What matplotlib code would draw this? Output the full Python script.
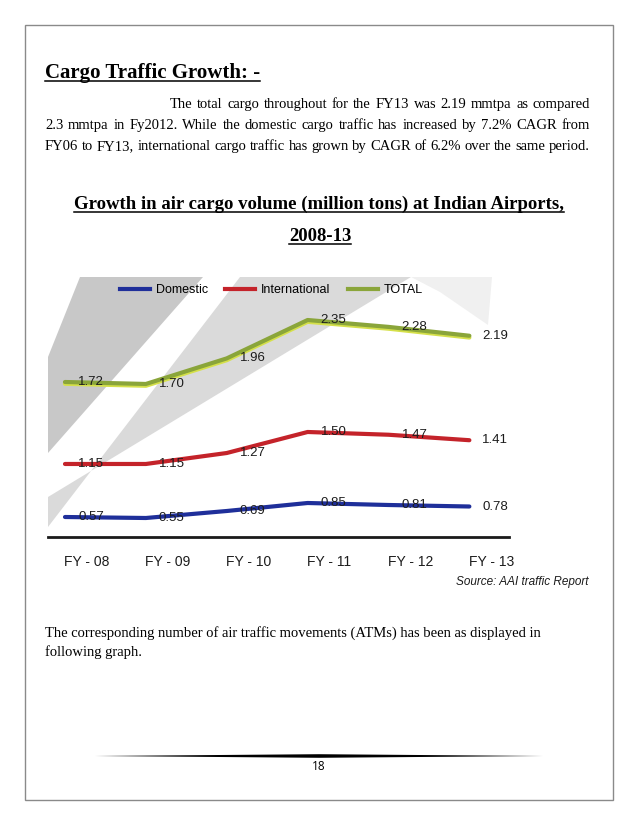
import matplotlib.pyplot as plt
import matplotlib.patheffects as pe
from matplotlib.lines import Line2D
from matplotlib.patches import Polygon, Rectangle

# values (million tons)
years = ["FY - 08", "FY - 09", "FY - 10", "FY - 11", "FY - 12", "FY - 13"]
domestic = [0.57, 0.55, 0.69, 0.85, 0.81, 0.78]
international = [1.15, 1.15, 1.27, 1.50, 1.47, 1.41]
total = [1.72, 1.70, 1.96, 2.35, 2.28, 2.19]

heading = "Cargo Traffic Growth: -"
para_lines = [
    "The total cargo throughout for the FY13 was 2.19 mmtpa as compared",
    "2.3 mmtpa in Fy2012. While the domestic cargo traffic has increased by 7.2% CAGR from",
    "FY06 to FY13, international cargo traffic has grown by CAGR of 6.2% over the same period.",
]
chart_title = ["Growth in air cargo volume (million tons) at Indian Airports,", "2008-13"]
after_lines = [
    "The corresponding number of air traffic movements (ATMs) has been as displayed in",
    "following graph.",
]
source = "Source: AAI traffic Report"
page_no = "18"

serif = "Liberation Serif"
sans = "Liberation Sans"

W, H = 638, 826
fig = plt.figure(figsize=(W / 100, H / 100), dpi=100)
fig.patch.set_facecolor("white")

# page layer in pixel coordinates
page = fig.add_axes([0, 0, 1, 1])
page.set_xlim(0, W)
page.set_ylim(H, 0)
page.axis("off")
page.set_zorder(0)

page.add_patch(Rectangle((25, 25), 588, 775, fill=False, ec="#8a8a8a", lw=1))

# grey background wedges of the scanned chart
page.add_patch(Polygon([(80, 277), (203, 277), (48, 453), (48, 357)],
                       closed=True, fc="#c8c8c8", ec="none"))
page.add_patch(Polygon([(240, 277), (411, 277), (48, 497), (48, 527)],
                       closed=True, fc="#dadada", ec="none"))
page.add_patch(Polygon([(411, 277), (492, 277), (488, 325), (440, 292)],
                       closed=True, fc="#f0f0f0", ec="none"))

renderer = fig.canvas.get_renderer()


def underline(t, y):
    bb = t.get_window_extent(renderer)
    page.plot([bb.x0, bb.x1], [y, y], color="black", lw=1.1)


def justify(line, x0, x1, y, **kw):
    words = line.split()
    arts = [page.text(0, y, w, ha="left", va="baseline", **kw) for w in words]
    widths = [a.get_window_extent(renderer).width for a in arts]
    gap = (x1 - x0 - sum(widths)) / (len(words) - 1)
    x = x0
    for a, w in zip(arts, widths):
        a.set_x(x)
        x += w + gap


t = page.text(45, 78, heading, family=serif, weight="bold", fontsize=15,
              ha="left", va="baseline")
underline(t, 81)

para_size = 10.5
justify(para_lines[0], 170, 590, 108, family=serif, fontsize=para_size)
justify(para_lines[1], 45, 590, 129, family=serif, fontsize=para_size)
justify(para_lines[2], 45, 590, 150, family=serif, fontsize=para_size)

t = page.text(319, 209, chart_title[0], family=serif, weight="bold", fontsize=13.5,
              ha="center", va="baseline")
underline(t, 212)
t = page.text(320, 241, chart_title[1], family=serif, weight="bold", fontsize=13.5,
              ha="center", va="baseline")
underline(t, 244)

for i, line in enumerate(after_lines):
    page.text(45, 637 + i * 19, line, family=serif, fontsize=para_size,
              ha="left", va="baseline")

# footer rule, thick in the middle
page.add_patch(Polygon([(95, 756), (319, 754.2), (543, 756), (319, 757.8)],
                       closed=True, fc="black", ec="none"))
page.text(319, 767, page_no, family="Open Sans", fontsize=8.5, ha="center", va="center")


def px_rect(left, top, right, bottom):
    return [left / W, 1 - bottom / H, (right - left) / W, (bottom - top) / H]


# each series sits in its own band, so each gets its own y scale
ax = fig.add_axes(px_rect(48, 277, 509, 537))
ax.set_zorder(1)
ax.patch.set_visible(False)
ax_int = ax.twinx()
ax_tot = ax.twinx()

x = list(range(len(years)))
series = [
    (ax, domestic, "#1f2f9a", "Domestic", (0.17, 5.37)),
    (ax_int, international, "#c4232a", "International", (0.351, 3.196)),
    (ax_tot, total, "#8aa53a", "TOTAL", (0.145, 2.787)),
]

handles = []
for a, vals, color, name, lims in series:
    if name == "TOTAL":
        effects = [pe.SimpleLineShadow(offset=(0, -1.3), shadow_color="#d5e04a",
                                       alpha=1, rho=1), pe.Normal()]
    else:
        effects = None
    a.plot(x, vals, color=color, lw=3, solid_capstyle="round", path_effects=effects)
    for xi, v in zip(x, vals):
        a.annotate(f"{v:.2f}", (xi, v), xytext=(9.4, 0), textcoords="offset points",
                   ha="left", va="center", fontsize=9.5, family=sans, color="#1c1c1c")
    a.set_ylim(*lims)
    a.set_xlim(-0.21, 5.49)
    a.set_yticks([])
    for s in a.spines.values():
        s.set_visible(False)
    handles.append(Line2D([], [], color=color, lw=3, label=name))

ax.spines["bottom"].set_visible(True)
ax.spines["bottom"].set_linewidth(2)
ax.spines["bottom"].set_color("#1a1a1a")
ax.set_xticks([i + 0.27 for i in x])
ax.set_xticklabels(years, family=sans, fontsize=10, color="#1c1c1c")
ax.tick_params(axis="x", length=0, pad=13)

ax_tot.legend(handles=handles, ncol=3, frameon=False, loc="center left",
              bbox_to_anchor=(0.156, 0.95), borderaxespad=0, borderpad=0,
              handlelength=2.4, handletextpad=0.45, columnspacing=1.4,
              prop={"family": sans, "size": 9})

page.text(588, 582, source, family=sans, style="italic", fontsize=8.5,
          ha="right", va="center", color="#1c1c1c")

fig.savefig("out.png", dpi=100)
